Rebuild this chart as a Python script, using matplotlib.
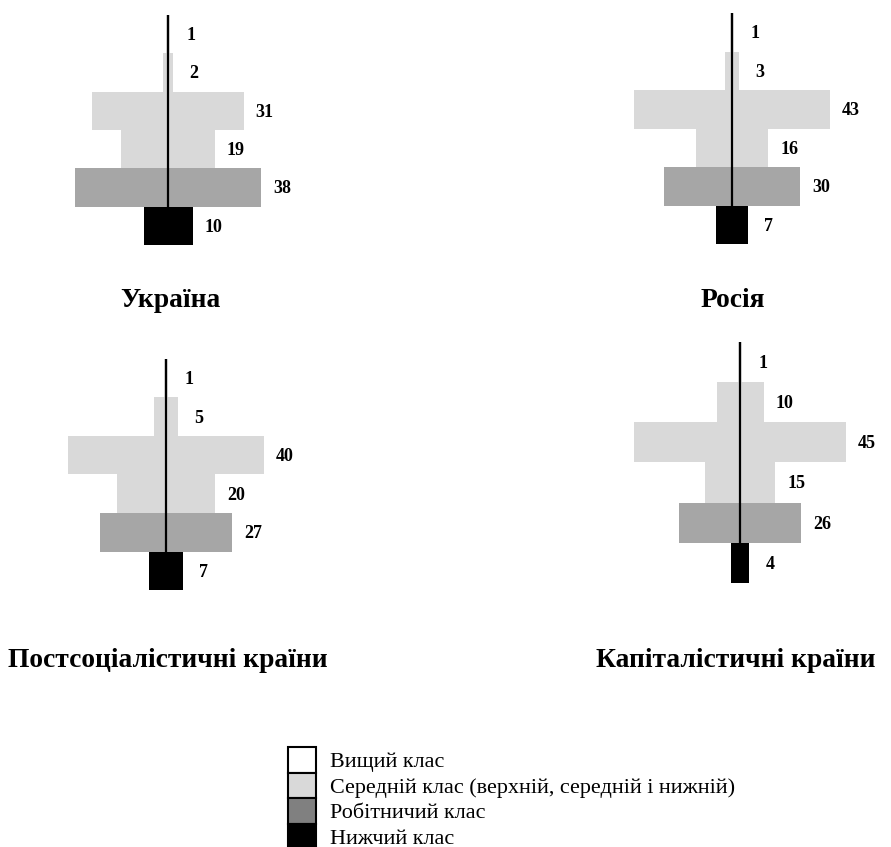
import numpy as np
import matplotlib
matplotlib.use('Agg')
import matplotlib.pyplot as plt
from matplotlib.patches import Patch

# class rows, top to bottom
classes = ['Вищий клас', 'Верхній середній', 'Середній середній',
           'Нижній середній', 'Робітничий клас', 'Нижчий клас']
ukraine = [1, 2, 31, 19, 38, 10]
russia = [1, 3, 43, 16, 30, 7]
postsoc = [1, 5, 40, 20, 27, 7]
capital = [1, 10, 45, 15, 26, 4]

titles = ['Україна', 'Росія', 'Постсоціалістичні країни', 'Капіталістичні країни']
legend_labels = ['Вищий клас', 'Середній клас (верхній, середній і нижній)',
                 'Робітничий клас', 'Нижчий клас']

row_colors = ['#e4e4e4', '#d9d9d9', '#d9d9d9', '#d9d9d9', '#a6a6a6', '#000000']
legend_colors = ['#ffffff', '#d9d9d9', '#808080', '#000000']

W, H = 891, 847
SERIF = 'Liberation Serif'

fig = plt.figure(figsize=(W / 100, H / 100), dpi=100)

# panel layout in pixels: centre x, top y, bottom y, px per percent
panels = [
    (ukraine, 168, 15, 245, 4.9),
    (russia, 732, 13, 244, 4.55),
    (postsoc, 166, 359, 590, 4.9),
    (capital, 740, 342, 583, 4.7),
]
half = 150  # half width of each panel axes in px

for vals, cx, top, bot, scale in panels:
    vals = np.array(vals, dtype=float)
    ax = fig.add_axes([(cx - half) / W, 1 - bot / H, 2 * half / W, (bot - top) / H])
    rows = np.arange(len(vals))
    ax.barh(rows, vals, left=-vals / 2, height=1.0, color=row_colors, linewidth=0)
    ax.axvline(0, color='black', lw=1.6)
    ax.set_xlim(-half / scale, half / scale)
    ax.set_ylim(len(vals) - 0.5, -0.5)
    ax.axis('off')
    for i, v in zip(rows, vals):
        ax.annotate(f'{v:.0f}', xy=(v / 2, i), xytext=(15, -1), textcoords='offset points',
                    ha='center', va='center', fontsize=13, fontweight='bold',
                    family=SERIF)

# panel titles
title_pos = [(170, 300), (733, 300), (168, 660), (736, 660)]
for t, (x, y) in zip(titles, title_pos):
    fig.text(x / W, 1 - y / H, t, ha='center', va='center', fontsize=19.8,
             fontweight='bold', family=SERIF)

# legend
handles = [Patch(facecolor=c, edgecolor='black', linewidth=1.5) for c in legend_colors]
fs = 15.9
fs_px = fs * 100 / 72
fig.legend(handles, legend_labels, loc='upper left',
           bbox_to_anchor=(288 / W, 1 - 747 / H), frameon=False,
           borderpad=0, borderaxespad=0, labelspacing=0,
           handlelength=28 / fs_px, handleheight=1.40,
           handletextpad=14 / fs_px, prop={'family': SERIF, 'size': fs})

plt.savefig('out.png', dpi=100)
